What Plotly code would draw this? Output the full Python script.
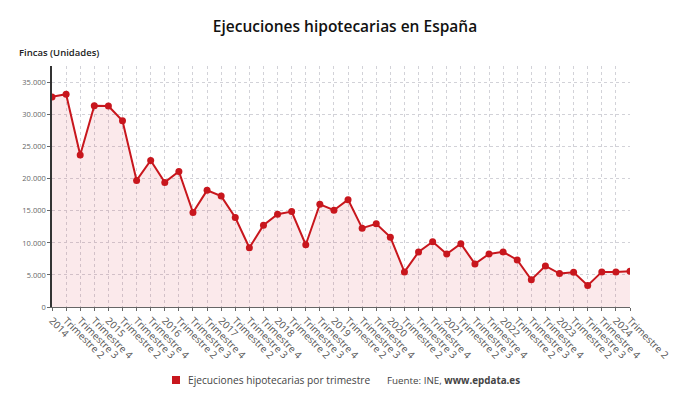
import plotly.graph_objects as go

years = list(range(2014, 2025))
quarters = []
tick_labels = []
for y in years:
    for q in range(1, 5):
        if y == 2024 and q > 2:
            break
        quarters.append(f"{y}-T{q}")
        tick_labels.append(str(y) if q == 1 else f"Trimestre {q}")

values = [32780, 33200, 23700, 31400, 31350, 29060, 19750, 22850, 19440, 21150,
          14740, 18200, 17300, 13960, 9250, 12770, 14470, 14890, 9710, 16030,
          15100, 16750, 12300, 12970, 10900, 5480, 8580, 10180, 8270, 9870,
          6720, 8270, 8600, 7340, 4240, 6410, 5220, 5430, 3360, 5480,
          5480, 5590]

y_ticks = [0, 5000, 10000, 15000, 20000, 25000, 30000, 35000]
y_tick_labels = ["0", "5.000", "10.000", "15.000", "20.000", "25.000", "30.000", "35.000"]

RED = "#c8161d"
FONT = "Open Sans"

fig = go.Figure()
fig.add_trace(go.Scatter(
    x=quarters, y=values, mode="lines+markers",
    line=dict(color=RED, width=2),
    marker=dict(color=RED, size=7),
    fill="tozeroy", fillcolor="rgba(220,40,55,0.10)",
    showlegend=False, hoverinfo="x+y",
))

fig.update_layout(
    width=690, height=405,
    margin=dict(l=52, r=60, t=66, b=98, autoexpand=False),
    paper_bgcolor="white", plot_bgcolor="white",
    font=dict(family=FONT, color="#444"),
    title=dict(text="Ejecuciones hipotecarias en España", x=0.5, xanchor="center",
               y=1 - 27 / 405, yanchor="middle",
               font=dict(family=FONT, size=15.5, color="#111", weight=600)),
    xaxis=dict(
        type="category", range=[0, len(quarters) - 1],
        tickmode="array", tickvals=quarters, ticktext=tick_labels,
        tickangle=45, tickfont=dict(size=10, color="#555"),
        showgrid=True, gridcolor="#d2d2d8", griddash="dot", gridwidth=1,
        showline=True, linecolor="#666", linewidth=1,
        ticks="outside", ticklen=3, tickcolor="#666",
        zeroline=False, automargin=False,
    ),
    yaxis=dict(
        range=[0, 37600],
        tickmode="array", tickvals=y_ticks, ticktext=y_tick_labels,
        tickfont=dict(size=7.5, color="#666"),
        showgrid=True, gridcolor="#d2d2d8", griddash="dot", gridwidth=1,
        showline=True, linecolor="#333", linewidth=1.5,
        ticks="outside", ticklen=3, tickcolor="#666",
        zeroline=False, automargin=False,
    ),
)

fig.add_annotation(text="Fincas (Unidades)", xref="paper", yref="paper",
                   x=-52 / 578 + 17 / 578, y=1 + (66 - 53) / 241,
                   xanchor="left", yanchor="middle", showarrow=False,
                   font=dict(family=FONT, size=9.5, color="#222", weight=600))

# legend-like footer
fig.add_shape(type="rect", xref="paper", yref="paper",
              x0=(172 - 52) / 578, x1=(180 - 52) / 578,
              y0=(307 - 384) / 241, y1=(307 - 376) / 241,
              fillcolor=RED, line=dict(width=0))
fig.add_annotation(text="Ejecuciones hipotecarias por trimestre", xref="paper", yref="paper",
                   x=(186 - 52) / 578, y=(307 - 380) / 241,
                   xanchor="left", yanchor="middle", showarrow=False,
                   font=dict(family=FONT, size=10.2, color="#444"))
fig.add_annotation(text="Fuente: INE, <b>www.epdata.es</b>", xref="paper", yref="paper",
                   x=(385 - 52) / 578, y=(307 - 380) / 241,
                   xanchor="left", yanchor="middle", showarrow=False,
                   font=dict(family=FONT, size=9.8, color="#444"))

fig.write_html("out.html", config={"displayModeBar": False},
               post_script="document.body.style.margin='0';document.body.style.overflow='hidden';")
